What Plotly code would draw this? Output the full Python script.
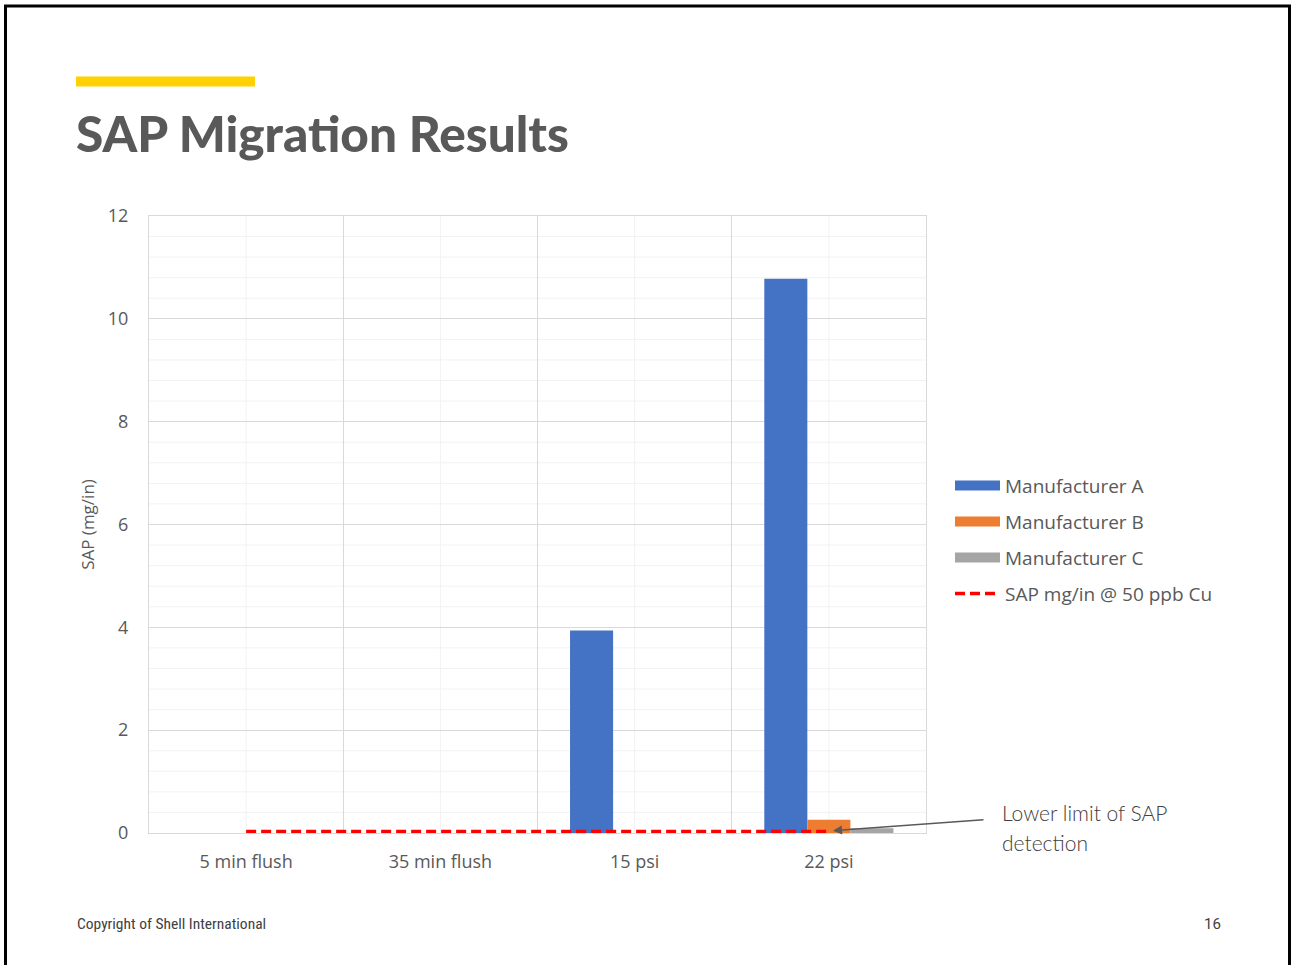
import plotly.graph_objects as go

categories = ["5 min flush", "35 min flush", "15 psi", "22 psi"]
manufacturer_a = [0, 0, 3.94, 10.78]
manufacturer_b = [0, 0, 0, 0.26]
manufacturer_c = [0, 0, 0, 0.09]
sap_limit = [0.03, 0.03, 0.03, 0.03]
y_ticks = [0, 2, 4, 6, 8, 10, 12]
series_names = ["Manufacturer A", "Manufacturer B", "Manufacturer C"]
series_colors = ["#4472C4", "#ED7D31", "#A5A5A5"]

W, H = 1291, 965
L, R, T, B = 149, 926, 215.7, 833.3

def px(x):
    return (x - L) / (R - L)

def py(y):
    return (B - y) / (B - T)

GRAY = "#595959"
FONT = "Open Sans"

fig = go.Figure()
for name, vals, col, g in zip(series_names, [manufacturer_a, manufacturer_b, manufacturer_c],
                              series_colors, ["a", "b", "c"]):
    fig.add_trace(go.Bar(x=categories, y=vals, name=name, showlegend=False,
                         marker=dict(color=col, line=dict(width=0)), legendgroup=g))
    # legend proxy with a wide rectangle symbol
    fig.add_trace(go.Scatter(x=[None], y=[None], name=name, mode="lines",
                             line=dict(color=col, width=12), legendgroup=g))
fig.add_trace(go.Scatter(x=categories, y=sap_limit, name="SAP mg/in @ 50 ppb Cu", mode="lines",
                         line=dict(color="#FF0000", width=3.5, dash="10px,5px"), legendgroup="d",
                         cliponaxis=False))

shapes = []
for i in range(31):
    v = round(i * 0.4, 2)
    if abs(v / 2 - round(v / 2)) < 1e-6:
        continue
    shapes.append(dict(type="line", xref="paper", yref="y", x0=0, x1=1, y0=v, y1=v,
                       line=dict(color="#F2F2F2", width=1), layer="below"))
for c in categories:
    shapes.append(dict(type="line", xref="x", yref="paper", x0=c, x1=c, y0=0, y1=1,
                       line=dict(color="#F2F2F2", width=1), layer="below"))
shapes.append(dict(type="rect", xref="paper", yref="paper", x0=px(76), x1=px(255),
                   y0=py(86), y1=py(76), fillcolor="#FFD100", line=dict(width=0)))
shapes.append(dict(type="rect", xref="paper", yref="paper", x0=px(5.5), x1=px(1289.5),
                   y0=py(980), y1=py(5.5), line=dict(color="black", width=3)))

fig.update_layout(
    width=W, height=H,
    margin=dict(l=L, r=W - R, t=T, b=H - B, pad=0),
    paper_bgcolor="white", plot_bgcolor="white",
    barmode="group", bargap=0.335, bargroupgap=0,
    font=dict(family=FONT, color=GRAY, size=17),
    shapes=shapes,
    showlegend=True,
    legend=dict(x=px(950), y=py(466.5), xanchor="left", yanchor="top",
                font=dict(family=FONT, size=19, color=GRAY),
                traceorder="grouped", tracegroupgap=8.3, itemwidth=45,
                bgcolor="rgba(0,0,0,0)"),
    xaxis=dict(type="category", tickson="boundaries", showgrid=True, gridcolor="#D9D9D9",
               gridwidth=1, showline=True, linecolor="#D9D9D9", linewidth=1, mirror=True,
               ticks="", tickfont=dict(family=FONT, size=18, color=GRAY), ticklabelstandoff=12),
    yaxis=dict(range=[0, 12], tickvals=y_ticks, showgrid=True, gridcolor="#D9D9D9",
               gridwidth=1, showline=True, linecolor="#D9D9D9", linewidth=1, mirror=True,
               zeroline=False, ticks="", tickfont=dict(family=FONT, size=18, color=GRAY),
               ticklabelstandoff=16,
               title=dict(text="SAP (mg/in)", font=dict(family=FONT, size=17, color=GRAY),
                          standoff=8)),
)

annotations = [
    dict(text="SAP Migration Results", xref="paper", yref="paper",
         x=px(74), y=py(133), xanchor="left", yanchor="middle", showarrow=False,
         font=dict(family="Lato", size=49.5, color=GRAY, weight=900)),
    dict(text="Copyright of Shell International", xref="paper", yref="paper",
         x=px(75), y=py(924), xanchor="left", yanchor="middle", showarrow=False,
         font=dict(family="Liberation Sans Narrow, Roboto Condensed, Roboto", size=15.5, color="#404040")),
    dict(text="16", xref="paper", yref="paper",
         x=px(1223), y=py(924), xanchor="right", yanchor="middle", showarrow=False,
         font=dict(family="Liberation Sans Narrow, Roboto", size=15, color="#404040")),
    dict(text="Lower limit of SAP", xref="paper", yref="paper",
         x=px(1000), y=py(813), xanchor="left", yanchor="middle", showarrow=False,
         font=dict(family="Lato", size=21, color="#404040", weight=300)),
    dict(text="detection", xref="paper", yref="paper",
         x=px(1000), y=py(843), xanchor="left", yanchor="middle", showarrow=False,
         font=dict(family="Lato", size=21, color="#404040", weight=300)),
    dict(text="", xref="paper", yref="paper", x=px(833), y=py(831),
         ax=152, ay=-11, axref="pixel", ayref="pixel",
         showarrow=True, arrowhead=2, arrowsize=1.2, arrowwidth=1.5, arrowcolor="#595959"),
]
fig.update_layout(annotations=annotations)

fig.write_html("out.html", post_script="document.body.style.margin='0';",
               config={"displayModeBar": False})
